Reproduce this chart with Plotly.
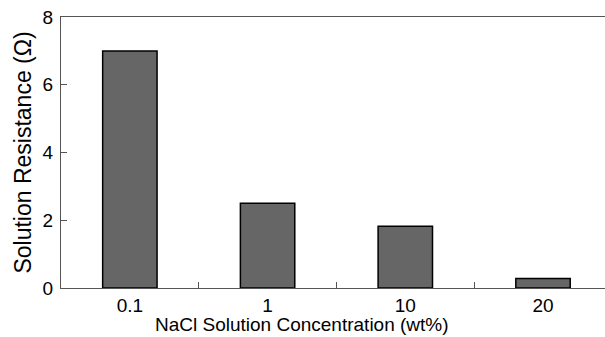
import plotly.graph_objects as go

categories = ["0.1", "1", "10", "20"]
resistance = [7.0, 2.5, 1.82, 0.28]
y_ticks = [0, 2, 4, 6, 8]
x_title = "NaCl Solution Concentration (wt%)"
y_title = "Solution Resistance (Ω)"

FONT = "Liberation Sans, Arial, Helvetica, sans-serif"

fig = go.Figure(
    go.Bar(
        x=categories,
        y=resistance,
        width=0.395,
        marker=dict(color="#666666", line=dict(color="black", width=1.5)),
    )
)

fig.update_layout(
    width=605,
    height=337,
    margin=dict(l=61, r=0, t=17, b=49),
    paper_bgcolor="white",
    plot_bgcolor="white",
    showlegend=False,
    font=dict(family=FONT, color="black", size=19),
    annotations=[
        dict(
            text=x_title,
            xref="paper",
            yref="paper",
            x=0.443,
            y=-0.133,
            xanchor="center",
            yanchor="middle",
            showarrow=False,
            font=dict(size=19),
        )
    ],
)

fig.update_xaxes(
    type="category",
    range=[-0.5, 3.45],
    tickson="boundaries",
    ticks="inside",
    ticklen=6,
    tickcolor="#555555",
    showline=True,
    linecolor="#555555",
    linewidth=1,
    mirror=True,
    showgrid=False,
    tickfont=dict(size=19),
)

fig.update_yaxes(
    range=[0, 8],
    tickvals=y_ticks,
    ticks="inside",
    ticklen=6,
    tickcolor="#555555",
    showline=True,
    linecolor="#555555",
    linewidth=1,
    showgrid=False,
    zeroline=False,
    tickfont=dict(size=19),
    ticklabelstandoff=3,
    title=dict(text=y_title, font=dict(size=23), standoff=4),
)

fig.write_html(
    "out.html",
    config={"displayModeBar": False},
    post_script="document.body.style.margin='0';document.body.style.overflow='hidden';",
)
